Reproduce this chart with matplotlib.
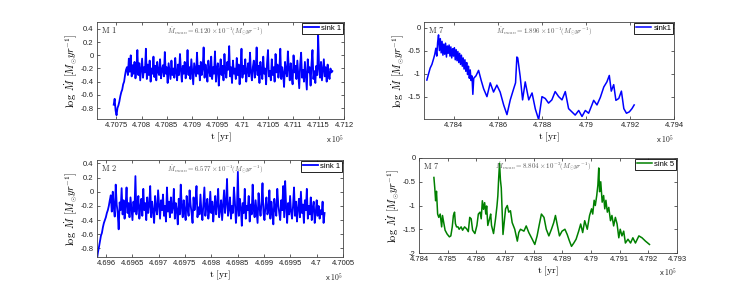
import matplotlib
matplotlib.use("Agg")
import matplotlib.pyplot as plt
import numpy as np
from matplotlib.ticker import FuncFormatter

plt.rcParams['mathtext.fontset'] = 'cm'
plt.rcParams['font.family'] = ['Liberation Sans', 'DejaVu Sans']

# ---- M 1, sink 1 (time in units of 1e5 yr, regular sampling) ----
m1_t_start = 4.70745
m1_t_end = 4.71177
m1_logmdot = [
    -0.75, -0.66, -0.84, -0.91, -0.80, -0.76, -0.70, -0.62, -0.56, -0.52, -0.44, -0.40, -0.30, -0.22,
    -0.18, -0.30, -0.05, -0.25, 0.00, -0.32, -0.15, -0.28, -0.10, -0.35, -0.20, 0.08, -0.30,
    -0.12, -0.38, -0.22, -0.05, -0.34, -0.18, -0.26, 0.10, -0.36, -0.14, -0.30, -0.08, -0.40,
    -0.20, -0.28, -0.02, -0.33, -0.16, -0.38, -0.10, -0.25, -0.30, -0.06, -0.35, -0.22, -0.15,
    -0.32, 0.05, -0.28, -0.18, -0.42, -0.12, -0.24, -0.36, -0.08, -0.30, -0.20, -0.34, -0.04,
    -0.26, -0.38, -0.14, -0.30, 0.02, -0.22, -0.40, -0.16, -0.28, -0.10, -0.35, -0.24, 0.08,
    -0.30, -0.18, -0.36, -0.06, -0.26, -0.44, -0.12, -0.22, -0.32, 0.04, -0.28, -0.16, -0.38,
    -0.10, -0.30, -0.20, 0.12, -0.34, -0.14, -0.26, -0.40, -0.08, -0.24, -0.32, -0.02, -0.36,
    -0.18, -0.28, 0.06, -0.40, -0.20, -0.12, -0.46, -0.24, -0.06, -0.30, -0.16, -0.38, 0.02,
    -0.26, -0.34, -0.10, -0.22, 0.14, -0.32, -0.18, -0.42, -0.08, -0.28, -0.20, -0.36, -0.04,
    -0.30, -0.14, -0.44, -0.22, 0.10, -0.34, -0.16, -0.28, -0.06, -0.40, -0.24, -0.12, -0.32,
    0.04, -0.26, -0.38, -0.18, -0.08, -0.34, -0.22, 0.12, -0.30, -0.16, -0.42, -0.10, -0.26,
    -0.36, -0.02, -0.28, -0.20, -0.44, -0.12, 0.08, -0.32, -0.24, -0.38, -0.06, -0.30, -0.18,
    -0.40, 0.02, -0.26, -0.14, -0.34, -0.22, 0.10, -0.36, -0.18, -0.28, -0.48, -0.10, -0.24,
    -0.32, 0.06, -0.20, -0.38, -0.12, -0.30, -0.44, 0.00, -0.26, -0.16, -0.36, -0.08, -0.28,
    -0.50, -0.14, 0.04, -0.34, -0.22, -0.40, -0.10, -0.30, -0.52, -0.06, -0.26, -0.18, -0.46,
    -0.12, 0.08, -0.36, -0.24, -0.42, -0.16, -0.30, 0.30, -0.20, -0.34, -0.10, -0.38, -0.22,
    -0.06, -0.32, -0.18, -0.40, -0.14, -0.28, -0.36, -0.20, -0.26, -0.24,
]

# ---- M 2, sink 1 ----
m2_t_start = 4.69583
m2_t_end = 4.70015
m2_logmdot = [
    -0.95, -0.85, -0.78, -0.70, -0.62, -0.58, -0.50, -0.44, -0.40, -0.36, -0.30, -0.26, -0.20, -0.12,
    -0.05, -0.28, 0.00, -0.22, -0.35, 0.10, -0.18, -0.30, -0.53, -0.15, -0.26, 0.05, -0.32,
    -0.12, -0.38, -0.20, 0.06, -0.30, -0.16, -0.36, -0.08, -0.24, -0.40, -0.14, -0.28, 0.22,
    -0.32, -0.18, -0.06, -0.38, -0.22, -0.10, -0.34, 0.04, -0.26, -0.16, -0.40, -0.08, -0.30,
    -0.20, 0.08, -0.36, -0.14, -0.28, -0.44, -0.06, -0.24, -0.32, 0.02, -0.18, -0.38, -0.12,
    -0.26, -0.04, -0.34, -0.20, -0.42, 0.06, -0.28, -0.14, -0.36, -0.08, -0.30, -0.22, 0.04,
    -0.38, -0.16, -0.26, -0.46, -0.10, -0.32, 0.10, -0.20, -0.36, -0.12, -0.28, -0.40, -0.06,
    -0.24, -0.34, 0.02, -0.18, -0.30, -0.44, -0.08, -0.26, -0.14, 0.08, -0.36, -0.22, -0.32,
    -0.04, -0.28, -0.40, -0.16, 0.06, -0.34, -0.20, -0.10, -0.38, -0.26, 0.00, -0.30, -0.14,
    -0.42, -0.22, -0.06, -0.32, -0.18, 0.04, -0.36, -0.26, -0.12, -0.40, -0.20, 0.02, -0.30,
    -0.16, 0.18, -0.34, -0.24, -0.08, -0.38, -0.20, -0.30, 0.06, -0.14, -0.44, -0.26, 0.28,
    -0.34, -0.10, -0.22, -0.48, -0.16, -0.30, 0.04, -0.38, -0.20, -0.26, -0.06, -0.42, -0.18,
    -0.32, 0.10, -0.24, -0.36, -0.12, -0.28, -0.44, -0.02, -0.22, -0.34, -0.16, 0.12, -0.30,
    -0.40, -0.20, -0.08, -0.32, -0.26, 0.02, -0.38, -0.14, -0.28, -0.46, -0.10, -0.24, -0.34,
    0.04, -0.18, -0.30, -0.40, -0.12, -0.26, 0.08, -0.36, 0.15, -0.22, -0.44, -0.16, -0.32,
    -0.06, -0.28, -0.38, -0.20, 0.06, -0.34, -0.14, -0.42, -0.24, -0.10, -0.36, 0.00, -0.30,
    -0.18, -0.44, -0.12, -0.26, 0.04, -0.38, -0.20, -0.32, -0.08, -0.40, -0.22, -0.14, -0.44,
    -0.30, -0.12, -0.34, -0.20, -0.38, -0.26, -0.32, -0.14, -0.44, -0.30,
]

# ---- M 7, sink1 ----
m7s1_t = [
    4.78277, 4.78285, 4.78292, 4.78300, 4.78308, 4.78313, 4.78318, 4.78322, 4.78326, 4.78330,
    4.78334, 4.78338, 4.78342, 4.78346, 4.78350, 4.78354, 4.78358, 4.78362, 4.78366, 4.78370,
    4.78374, 4.78378, 4.78382, 4.78386, 4.78390, 4.78394, 4.78398, 4.78402, 4.78406, 4.78410,
    4.78414, 4.78418, 4.78422, 4.78426, 4.78430, 4.78434, 4.78438, 4.78442, 4.78446, 4.78450,
    4.78454, 4.78458, 4.78462, 4.78466, 4.78470, 4.78474, 4.78478, 4.78482, 4.78486, 4.78490,
    4.78500, 4.78512, 4.78524, 4.78535, 4.78550, 4.78565, 4.78580, 4.78595, 4.78610, 4.78626,
    4.78641, 4.78656, 4.78672, 4.78680, 4.78686, 4.78690, 4.78701, 4.78712, 4.78724, 4.78740,
    4.78755, 4.78770, 4.78785, 4.78800, 4.78815, 4.78830, 4.78845, 4.78860, 4.78876, 4.78891,
    4.78906, 4.78921, 4.78936, 4.78951, 4.78967, 4.78982, 4.78997, 4.79012, 4.79027, 4.79035,
    4.79050, 4.79065, 4.79081, 4.79095, 4.79106, 4.79115, 4.79126, 4.79136, 4.79149, 4.79161,
    4.79172, 4.79184, 4.79197, 4.79209, 4.79219,
]
m7s1_logmdot = [
    -1.14, -1.00, -0.88, -0.80, -0.67, -0.58, -0.45, -0.62, -0.32, -0.16,
    -0.50, -0.24, -0.55, -0.30, -0.60, -0.36, -0.58, -0.34, -0.64, -0.40,
    -0.56, -0.38, -0.62, -0.42, -0.66, -0.46, -0.62, -0.44, -0.70, -0.48,
    -0.72, -0.52, -0.76, -0.56, -0.80, -0.60, -0.84, -0.66, -0.90, -0.70,
    -0.95, -0.76, -1.02, -0.84, -1.10, -0.92, -1.15, -1.05, -1.45, -1.10,
    -1.05, -0.93, -1.15, -1.33, -1.50, -1.20, -1.40, -1.25, -1.40, -1.68,
    -1.89, -1.57, -1.32, -1.20, -0.64, -0.66, -1.06, -1.57, -1.18, -1.57,
    -1.42, -1.77, -2.00, -1.50, -1.54, -1.64, -1.57, -1.39, -1.50, -1.57,
    -1.39, -1.76, -1.83, -1.90, -1.80, -1.93, -1.80, -1.86, -1.68, -1.58,
    -1.68, -1.52, -1.29, -1.18, -1.04, -1.38, -1.24, -1.58, -1.54, -1.38,
    -1.76, -1.86, -1.83, -1.76, -1.68,
]

# ---- M 7, sink 5 ----
m7s5_t = [
    4.78452, 4.78455, 4.78458, 4.78461, 4.78465, 4.78469, 4.78474, 4.78479, 4.78482, 4.78486,
    4.78491, 4.78498, 4.78506, 4.78511, 4.78516, 4.78520, 4.78524, 4.78527, 4.78531, 4.78536,
    4.78540, 4.78547, 4.78552, 4.78559, 4.78566, 4.78572, 4.78577, 4.78582, 4.78587, 4.78595,
    4.78602, 4.78607, 4.78613, 4.78617, 4.78621, 4.78625, 4.78629, 4.78633, 4.78636, 4.78640,
    4.78646, 4.78650, 4.78653, 4.78660, 4.78667, 4.78672, 4.78675, 4.78678, 4.78681, 4.78684,
    4.78687, 4.78690, 4.78693, 4.78702, 4.78708, 4.78713, 4.78719, 4.78725, 4.78734, 4.78743,
    4.78748, 4.78754, 4.78766, 4.78774, 4.78783, 4.78795, 4.78804, 4.78812, 4.78820, 4.78827,
    4.78836, 4.78844, 4.78853, 4.78862, 4.78870, 4.78876, 4.78883, 4.78890, 4.78899, 4.78909,
    4.78917, 4.78925, 4.78932, 4.78940, 4.78948, 4.78957, 4.78964, 4.78971, 4.78978, 4.78987,
    4.78995, 4.79002, 4.79006, 4.79011, 4.79015, 4.79020, 4.79024, 4.79027, 4.79030, 4.79034,
    4.79039, 4.79044, 4.79048, 4.79052, 4.79057, 4.79062, 4.79068, 4.79073, 4.79079, 4.79085,
    4.79091, 4.79097, 4.79102, 4.79108, 4.79114, 4.79120, 4.79129, 4.79138, 4.79146, 4.79155,
    4.79167, 4.79178, 4.79190, 4.79204,
]
m7s5_logmdot = [
    -0.41, -0.63, -0.90, -0.70, -1.18, -1.25, -1.18, -1.45, -1.21, -1.35,
    -1.52, -1.60, -1.66, -1.64, -1.45, -1.21, -1.14, -1.38, -1.45, -1.45,
    -1.50, -1.45, -1.52, -1.45, -1.49, -1.55, -1.25, -1.28, -1.52, -1.59,
    -1.42, -1.18, -1.14, -1.28, -0.90, -1.08, -0.94, -1.18, -1.01, -1.42,
    -1.28, -1.18, -1.42, -1.59, -1.28, -1.01, -0.80, -0.42, -0.11, -0.46,
    -0.63, -1.11, -1.61, -1.07, -1.00, -1.14, -1.11, -1.36, -1.50, -1.75,
    -1.57, -1.50, -1.54, -1.43, -1.57, -1.71, -1.82, -1.64, -1.39, -1.18,
    -1.25, -1.50, -1.64, -1.50, -1.36, -1.21, -1.43, -1.64, -1.54, -1.50,
    -1.61, -1.75, -1.86, -1.79, -1.71, -1.54, -1.39, -1.57, -1.32, -1.50,
    -1.21, -1.07, -1.18, -0.89, -1.00, -0.79, -0.57, -0.21, -0.71, -0.50,
    -0.93, -0.79, -1.07, -0.89, -1.14, -1.04, -1.32, -1.21, -1.43, -1.25,
    -1.39, -1.68, -1.50, -1.64, -1.54, -1.79, -1.71, -1.79, -1.68, -1.79,
    -1.64, -1.68, -1.75, -1.82,
]

W, H = 744, 289
fig = plt.figure(figsize=(W / 100, H / 100), dpi=100)


def make_ax(l, t, r, b):
    return fig.add_axes([l / W, 1 - b / H, (r - l) / W, (b - t) / H])


def style(ax, xlim, ylim, xticks, yticks, label, mean_txt):
    ax.set_xlim(*xlim)
    ax.set_ylim(*ylim)
    ax.set_xticks(xticks)
    ax.set_yticks(yticks)
    fmt = FuncFormatter(lambda v, p: '%g' % round(v, 6))
    ax.xaxis.set_major_formatter(fmt)
    ax.yaxis.set_major_formatter(fmt)
    ax.tick_params(direction='in', top=True, right=True, length=2.5, width=0.5,
                   labelsize=5.5, pad=2.5, colors='#222222')
    for s in ax.spines.values():
        s.set_linewidth(0.6)
        s.set_color('#444444')
    ax.set_xlabel(r'$\mathrm{t\ [yr]}$', fontsize=7, labelpad=1)
    ax.set_ylabel(r'$\log\ \dot{M}\ [M_{\odot}yr^{-1}]$', fontsize=7.5, labelpad=1)
    ax.text(0.015, 0.97, r'$\mathrm{%s}$' % label.replace(' ', r'\ '), transform=ax.transAxes,
            fontsize=6, va='top', ha='left', color='#333333')
    ax.text(0.48, 0.97, mean_txt, transform=ax.transAxes, fontsize=5,
            va='top', ha='center', color='#555555')
    ax.text(1.0, -0.15, r'x $10^5$', transform=ax.transAxes, fontsize=5.5,
            va='top', ha='right', color='#222222')
    leg = ax.legend(loc='upper right', fontsize=5.5, handlelength=2.0,
                    borderaxespad=0.1, borderpad=0.25, fancybox=False,
                    framealpha=1, handletextpad=0.3)
    leg.get_frame().set_edgecolor('black')
    leg.get_frame().set_linewidth(0.6)


# top left: M 1
ax1 = make_ax(97, 22, 344, 119)
t1 = np.linspace(m1_t_start, m1_t_end, len(m1_logmdot))
ax1.plot(t1, m1_logmdot, color='#0000ff', lw=1.3, label='sink 1')
style(ax1, (4.70712, 4.712), (-0.967, 0.506),
      [4.7075, 4.708, 4.7085, 4.709, 4.7095, 4.71, 4.7105, 4.711, 4.7115, 4.712],
      [-0.8, -0.6, -0.4, -0.2, 0, 0.2, 0.4], 'M 1',
      r'$\dot{M}_{mean}=6.120\times10^{-1}(M_{\odot}yr^{-1})$')

# top right: M 7 sink1
ax2 = make_ax(424, 22, 674, 119)
ax2.plot(m7s1_t, m7s1_logmdot, color='#0000ff', lw=1.1, label='sink1')
style(ax2, (4.78264, 4.794), (-1.985, 0.12),
      [4.784, 4.786, 4.788, 4.79, 4.792, 4.794],
      [-1.5, -1, -0.5, 0], 'M 7',
      r'$\dot{M}_{mean}=1.896\times10^{-1}(M_{\odot}yr^{-1})$')

# bottom left: M 2
ax3 = make_ax(97, 160, 343, 257)
t2 = np.linspace(m2_t_start, m2_t_end, len(m2_logmdot))
ax3.plot(t2, m2_logmdot, color='#0000ff', lw=1.3, label='sink 1')
style(ax3, (4.69583, 4.7005), (-0.92, 0.447),
      [4.696, 4.6965, 4.697, 4.6975, 4.698, 4.6985, 4.699, 4.6995, 4.7, 4.7005],
      [-0.8, -0.6, -0.4, -0.2, 0, 0.2, 0.4], 'M 2',
      r'$\dot{M}_{mean}=6.577\times10^{-1}(M_{\odot}yr^{-1})$')

# bottom right: M 7 sink 5
ax4 = make_ax(419, 158, 677, 253)
ax4.plot(m7s5_t, m7s5_logmdot, color='#008000', lw=1.1, label='sink 5')
style(ax4, (4.784, 4.793), (-2, 0),
      [4.784, 4.785, 4.786, 4.787, 4.788, 4.789, 4.79, 4.791, 4.792, 4.793],
      [-2, -1.5, -1, -0.5, 0], 'M 7',
      r'$\dot{M}_{mean}=8.804\times10^{-2}(M_{\odot}yr^{-1})$')

fig.savefig('out.png', dpi=100)
